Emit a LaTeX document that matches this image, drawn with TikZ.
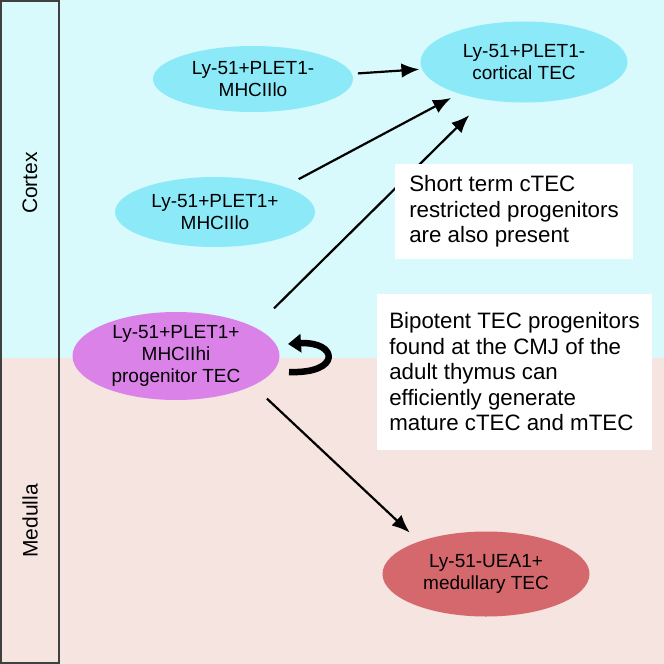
\documentclass[tikz,border=0pt]{standalone}
\usepackage{fontspec}
\setmainfont{Liberation Sans}
\usetikzlibrary{
	arrows.meta,
	shapes.geometric
}
\definecolor{CortexBg}{HTML}{D8FAFC}
\definecolor{MedullaBg}{HTML}{F5E4DF}
\definecolor{CortexCell}{HTML}{8CEAF8}
\definecolor{ProgenitorCell}{HTML}{DB82E9}
\definecolor{MedullaCell}{HTML}{D5686D}
\definecolor{StripLine}{HTML}{404040}

\begin{document}
\begin{tikzpicture}[
 x=1pt,y=-1pt,
 cell/.style={ellipse,inner sep=0pt,align=center,font=\fontsize{19}{22}\selectfont},
 ctec/.style={cell,fill=CortexCell},
 ptec/.style={cell,fill=ProgenitorCell},
 mtec/.style={cell,fill=MedullaCell},
 note/.style={fill=white,align=left,inner xsep=10pt,font=\fontsize{22.3}{25.5}\selectfont},
 zone/.style={rotate=90,font=\fontsize{21}{24}\selectfont},
 flow/.style={-{Latex[length=18pt,width=14.5pt]},line width=2.2pt},
 renew/.style={-{Triangle[length=13pt,width=18pt]},line width=6.5pt}
]
 % cortex / medulla regions
 \fill[CortexBg] (0,0) rectangle (664,357.5);
 \fill[MedullaBg] (0,357.5) rectangle (664,664);
 \draw[StripLine,line width=2pt] (1,1) rectangle (59,663);
 \node[zone] (cortex) at (30,183) {Cortex};
 \node[zone] (medulla) at (30,521) {Medulla};

 \node[ctec,minimum width=200pt,minimum height=66pt] (plminus) at (253,79)
   {Ly-51+PLET1-\\MHCIIlo};
 \node[ctec,minimum width=207pt,minimum height=81pt] (ctec) at (524,62)
   {Ly-51+PLET1-\\cortical TEC};
 \node[ctec,minimum width=200pt,minimum height=70pt] (plplus) at (215,212)
   {Ly-51+PLET1+\\MHCIIlo};
 \node[ptec,minimum width=207pt,minimum height=88pt] (prog) at (176,356)
   {Ly-51+PLET1+\\MHCIIhi\\progenitor TEC};
 \node[mtec,minimum width=207pt,minimum height=85pt] (mtec) at (486,574)
   {Ly-51-UEA1+\\medullary TEC};

 \draw[flow,shorten <=6pt,shorten >=2.5pt] (plminus.3.3) -- (ctec.184.5);
 \draw[flow,shorten <=16pt,shorten >=9pt] (plplus.20.7) -- (ctec.206.4);
 \draw[flow,shorten <=27pt,shorten >=22pt] (prog.20.5) -- (ctec.224.5);
 \draw[flow,shorten <=19pt,shorten >=12.8pt] (prog.339.7) -- (mtec.154.7);

 \node[note,minimum width=236pt,minimum height=95pt,inner xsep=14pt] (shortterm) at (514,211.5)
   {Short term cTEC\\restricted progenitors\\are also present};
 \node[note,minimum width=275pt,minimum height=156pt] (bipotent) at (514.5,372)
   {Bipotent TEC progenitors\\found at the CMJ of the\\adult thymus can\\efficiently generate\\mature cTEC and mTEC};

 % self-renewal
 \coordinate (loopfrom) at (289,372);
 \coordinate (loopto) at (288,344);
 \draw[renew] (loopfrom) .. controls (342,374) and (338,341) .. (loopto);
\end{tikzpicture}
\end{document}
